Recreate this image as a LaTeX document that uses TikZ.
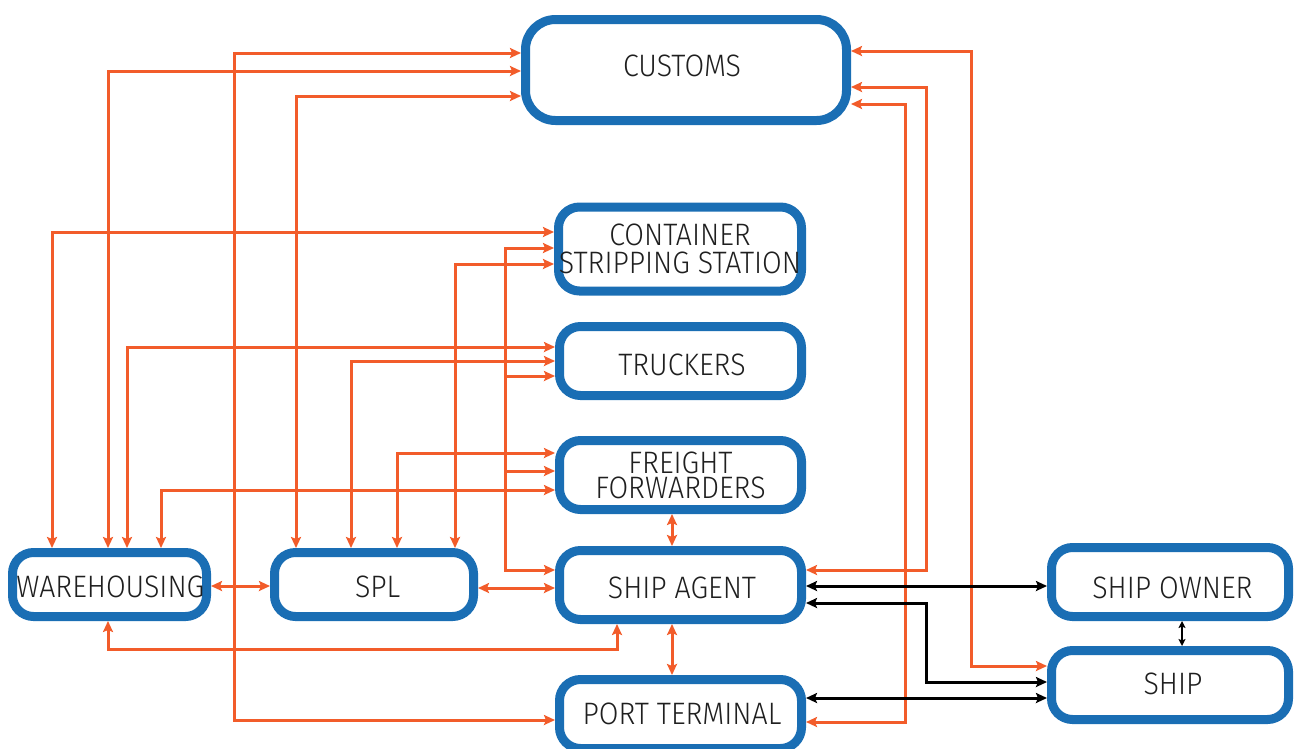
\documentclass[tikz,border=0pt]{standalone}
\usepackage{fontspec}
\setmainfont{Fira Sans Light}[FakeStretch=0.92]
\usetikzlibrary{arrows.meta}
\definecolor{boxblue}{RGB}{26,110,180}
\definecolor{linkor}{RGB}{242,92,42}
% centred caps text, shifted by #1/2 to the right and #2 downwards
\newcommand\ctext[3]{\hspace*{#1}\smash{\raisebox{\dimexpr-10.7pt-#2\relax}{#3}}}
\begin{document}
\begin{tikzpicture}[x=1pt,y=-1pt,
  box/.style={draw=boxblue, line width=9pt, rounded corners=21pt, fill=white,
    minimum width=242pt, minimum height=69pt, inner sep=0pt,
    font=\fontsize{31}{28}\selectfont, text=black!88, align=center},
  otip/.tip={Stealth[length=11pt,width=10pt,inset=2pt]},
  stip/.tip={Stealth[length=7pt,width=7pt,inset=1.5pt]},
  olink/.style={draw=linkor, line width=3pt, otip-otip},
  obranch/.style={draw=linkor, line width=3pt, -otip},
  blink/.style={draw=black, line width=3pt, otip-otip},
  slink/.style={draw=black, line width=2pt, stip-stip}]
\useasboundingbox (0,0) rectangle (1294,748);
\clip (0,0) rectangle (1294,748);
% boxes
\node[box, minimum width=321pt, minimum height=101pt, rounded corners=30pt] (cust) at (686,70) {\ctext{-8pt}{-4pt}{CUSTOMS}};
\node[box, minimum height=84pt, minimum width=243pt] (cont) at (680,249) {CONTAINER\\STRIPPING STATION};
\node[box] (truck) at (680.5,361) {\ctext{3pt}{4pt}{TRUCKERS}};
\node[box, font=\fontsize{31}{25}\selectfont] (freight) at (680.5,475) {FREIGHT\\FORWARDERS};
\node[box] (agent) at (680.5,585) {\ctext{3pt}{3pt}{SHIP AGENT}};
\node[box] (port) at (680.5,714) {\ctext{3pt}{0pt}{PORT TERMINAL}};
\node[box, minimum width=194pt, minimum height=64pt] (ware) at (109.5,584.5) {\ctext{1.6pt}{2pt}{WAREHOUSING}};
\node[box, minimum width=199pt, minimum height=64pt] (spl) at (374,584.5) {\ctext{7.4pt}{2pt}{SPL}};
\node[box, minimum width=237pt] (owner) at (1170,582) {\ctext{4.8pt}{5.5pt}{SHIP OWNER}};
\node[box, minimum width=237pt] (ship) at (1170,685) {\ctext{6pt}{-1.3pt}{SHIP}};
% bus coordinates
\coordinate (busT) at (505,376);
\coordinate (busF) at (505,471);
% orange connectors, left side
\draw[olink] (cust.west |- 0,53) -| (234,720) -- (port.west |- 0,720);
\draw[olink] (cust.west |- 0,71) -| (ware.north -| 108,0);
\draw[olink] (cust.west |- 0,96) -| (spl.north -| 296,0);
\draw[olink] (cont.west |- 0,232) -| (ware.north -| 52,0);
\draw[olink] (cont.west |- 0,264) -| (spl.north -| 455,0);
\draw[olink] (truck.west |- 0,347) -| (ware.north -| 127,0);
\draw[olink] (truck.west |- 0,361) -| (spl.north -| 351,0);
\draw[olink] (freight.west |- 0,453) -| (spl.north -| 397,0);
\draw[olink] (freight.west |- 0,490) -| (ware.north -| 161,0);
\draw[olink] (cont.west |- 0,248) -| (505,570) -- (agent.west |- 0,570);
\draw[obranch] (busT) -- (truck.west |- busT);
\draw[obranch] (busF) -- (freight.west |- busF);
\draw[olink] (ware.south -| 108,0) |- (617,649) -- (agent.south -| 617,0);
\draw[olink] (ware.east |- 0,586) -- (spl.west |- 0,586);
\draw[olink] (spl.east |- 0,588) -- (agent.west |- 0,588);
\draw[olink] (freight.south -| 672,0) -- (agent.north -| 672,0);
\draw[olink] (agent.south -| 672,0) -- (port.north -| 672,0);
% orange connectors, right side
\draw[olink] (cust.east |- 0,51) -| (971,666) -- (ship.west |- 0,666);
\draw[olink] (cust.east |- 0,87) -| (926,570) -- (agent.east |- 0,570);
\draw[olink] (cust.east |- 0,104) -| (905,722) -- (port.east |- 0,722);
% black connectors
\draw[blink] (agent.east |- 0,586) -- (owner.west |- 0,586);
\draw[blink] (agent.east |- 0,603) -| (926,682) -- (ship.west |- 0,682);
\draw[blink] (port.east |- 0,698) -- (ship.west |- 0,698);
\draw[slink] (owner.south -| 1182,0) -- (ship.north -| 1182,0);
\end{tikzpicture}
\end{document}
